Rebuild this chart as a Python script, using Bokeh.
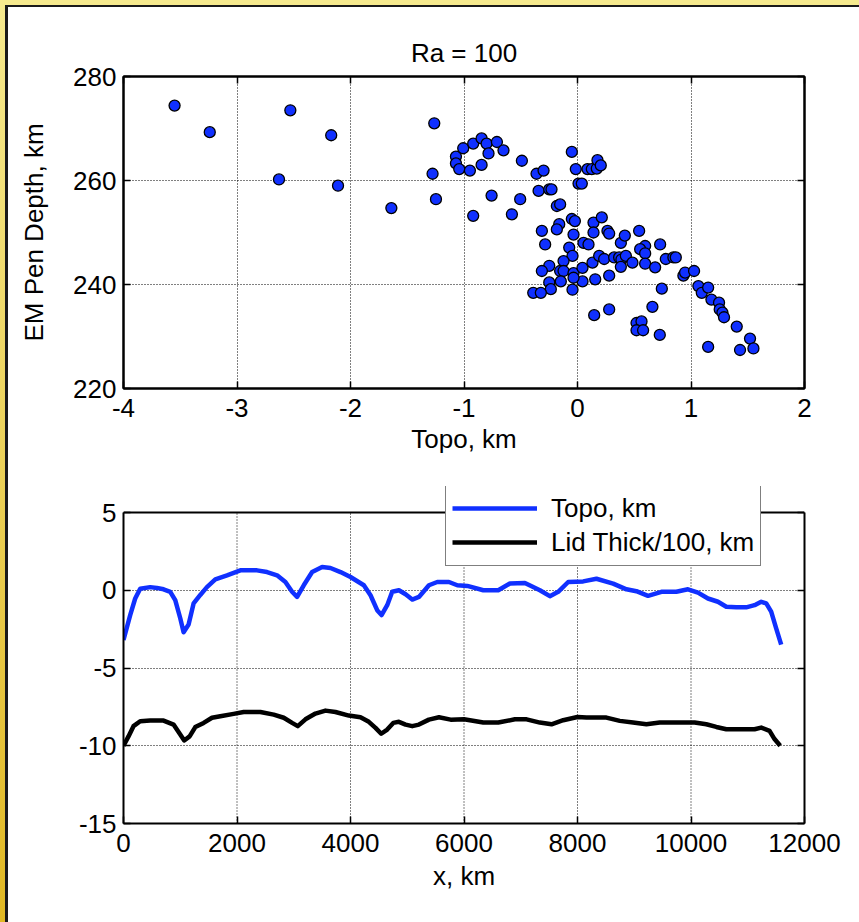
from bokeh.plotting import figure
from bokeh.layouts import column
from bokeh.models import (Range1d, FixedTicker, LinearAxis, Legend, LegendItem, Span,
                          ColumnDataSource, GlobalInlineStyleSheet)
from bokeh.embed import file_html
from bokeh.resources import INLINE

# ---------------- data ----------------
title_text = "Ra = 100"

scatter_topo = [-3.55, -3.24, -2.53, -2.17, -2.63, -2.11, -1.64,
                -1.262, -1.277, -1.247, -1.071, -1.071, -1.042, -1.007, -0.948, -0.919, -0.919,
                -0.845, -0.845, -0.801, -0.784, -0.757, -0.710, -0.652, -0.578, -0.505, -0.490,
                -0.361, -0.299, -0.343, -0.249, -0.229, -0.182, -0.153, -0.050, -0.015, 0.009,
                0.038, 0.088, 0.126, 0.170, 0.176, 0.205, -0.050, -0.023, 0.141, 0.214, 0.141,
                0.264, 0.279, -0.314, -0.161, -0.182, -0.035, -0.285, -0.073, 0.053, 0.097,
                0.382, 0.417, 0.543, 0.596, 0.552, 0.596, 0.728, -0.044, -0.123, -0.249,
                -0.314, -0.153, -0.123, -0.035, 0.044, 0.132, 0.191, 0.235, 0.323, 0.367,
                0.387, 0.426, 0.382, 0.484, 0.596, 0.684, 0.778, 0.845, 0.866, 0.279, 0.156,
                0.044, -0.035, -0.147, -0.249, -0.235, -0.044, -0.390, -0.323, 0.933, 0.948,
                1.027, 1.065, 1.095, 1.151, 1.180, 1.247, 1.253, 1.277, 1.291, 1.403, 1.520,
                1.550, 1.432, 1.151, 0.743, 0.660, 0.279, 0.147, 0.520, 0.564, 0.520, 0.578,
                0.725]
scatter_depth = [274.4, 269.3, 273.5, 268.7, 260.2, 259.0, 254.7,
                 271.0, 261.3, 256.4, 264.6, 263.3, 262.2, 266.2, 261.9, 267.1, 253.2,
                 268.1, 263.0, 267.1, 265.2, 257.1, 267.4, 265.8, 253.5, 256.4, 263.8,
                 261.3, 261.9, 258.0, 258.3, 258.3, 255.1, 255.4, 265.5, 262.2, 259.4,
                 259.4, 262.2, 262.2, 262.3, 263.9, 262.9, 252.6, 252.2, 251.9, 252.9, 250.0,
                 250.3, 249.8, 250.3, 251.6, 250.6, 249.6, 247.7, 247.1, 248.0, 247.7,
                 248.0, 249.4, 250.3, 247.4, 246.8, 246.0, 247.7, 245.5, 244.5, 243.6,
                 242.6, 242.6, 242.6, 242.2, 243.2, 244.2, 245.5, 244.9, 245.2, 245.2,
                 244.8, 245.5, 243.4, 244.2, 244.0, 243.3, 244.9, 245.2, 245.2, 241.7, 241.0,
                 240.6, 241.3, 240.6, 240.4, 239.1, 239.0, 238.4, 238.4, 241.7, 242.3,
                 242.6, 239.7, 238.4, 239.4, 237.1, 236.5, 235.2, 234.6, 233.7, 231.9, 229.6,
                 227.7, 227.4, 228.0, 239.2, 235.7, 235.2, 234.1, 232.6, 232.9, 231.2, 231.2,
                 230.3]

topo_x_km = [0, 118, 206, 294, 470, 588, 706, 824, 912, 1000, 1059, 1147, 1235, 1353, 1470,
             1618, 1824, 2059, 2353, 2529, 2706, 2853, 2971, 3059, 3176, 3324, 3500, 3647,
             3824, 4000, 4235, 4353, 4470, 4547, 4647, 4735, 4853, 4971, 5088, 5206, 5382,
             5529, 5735, 5882, 6059, 6340, 6604, 6809, 7073, 7337, 7513, 7660, 7836, 8100,
             8334, 8628, 8862, 9038, 9243, 9478, 9742, 9947, 10123, 10299, 10475, 10622,
             10798, 10973, 11120, 11237, 11326, 11413, 11501, 11589]
topo_km = [-3.2, -1.6, -0.53, 0.1, 0.2, 0.15, 0.06, -0.1, -0.64, -1.8, -2.7, -2.2, -0.85, -0.3,
           0.2, 0.7, 0.96, 1.28, 1.28, 1.17, 0.96, 0.53, -0.1, -0.43, 0.32, 1.17, 1.49, 1.43,
           1.17, 0.85, 0.32, -0.32, -1.28, -1.6, -0.96, -0.1, 0.0, -0.26, -0.6, -0.43, 0.32,
           0.53, 0.53, 0.32, 0.28, 0.0, 0.0, 0.43, 0.47, 0.0, -0.38, -0.1, 0.53, 0.57, 0.74,
           0.43, 0.06, -0.06, -0.36, -0.1, -0.1, 0.06, -0.15, -0.53, -0.74, -1.06, -1.1, -1.1,
           -0.96, -0.74, -0.85, -1.38, -2.45, -3.5]
lid_x_km = [0, 88, 176, 294, 470, 706, 882, 1000, 1070, 1165, 1265, 1412, 1559, 1706, 1941,
            2118, 2412, 2647, 2824, 2971, 3071, 3206, 3382, 3559, 3735, 3971, 4176, 4323,
            4441, 4541, 4647, 4753, 4853, 4971, 5088, 5206, 5382, 5559, 5765, 6000, 6340,
            6604, 6897, 7103, 7337, 7542, 7748, 8000, 8158, 8510, 8745, 8979, 9214, 9449,
            9800, 10064, 10270, 10446, 10622, 10856, 11120, 11237, 11384, 11472, 11572]
lid_km = [-10.0, -9.4, -8.74, -8.42, -8.38, -8.38, -8.64, -9.28, -9.66, -9.4, -8.8, -8.53,
          -8.2, -8.1, -7.95, -7.83, -7.83, -8.0, -8.2, -8.53, -8.74, -8.3, -7.93, -7.74, -7.83,
          -8.06, -8.17, -8.46, -8.85, -9.23, -8.96, -8.53, -8.46, -8.64, -8.74, -8.64, -8.32,
          -8.17, -8.32, -8.3, -8.51, -8.51, -8.3, -8.3, -8.51, -8.62, -8.36, -8.15, -8.19,
          -8.19, -8.4, -8.51, -8.62, -8.51, -8.51, -8.51, -8.62, -8.79, -8.94, -8.94, -8.94,
          -8.83, -9.04, -9.57, -10.0]

top_x_ticks = [-4, -3, -2, -1, 0, 1, 2]
top_y_ticks = [220, 240, 260, 280]
bot_x_ticks = [0, 2000, 4000, 6000, 8000, 10000, 12000]
bot_y_ticks = [-15, -10, -5, 0, 5]
bot_y_min, bot_y_max = -15, 5
legend_labels = ["Topo, km", "Lid Thick/100, km"]

FONT = "Liberation Sans"
FS = "26px"
BLUE = "#1030FF"


def style_axis(ax, ticks):
    ax.ticker = FixedTicker(ticks=ticks)
    ax.major_label_overrides = {t: str(t) for t in ticks}
    ax.major_label_text_font = FONT
    ax.major_label_text_font_size = FS
    ax.major_label_text_color = "black"
    ax.axis_label_text_font = FONT
    ax.axis_label_text_font_size = FS
    ax.axis_label_text_font_style = "normal"
    ax.axis_label_text_color = "black"
    ax.major_tick_in = 7
    ax.major_tick_out = 0
    ax.major_tick_line_width = 1.5
    ax.minor_tick_line_color = None
    ax.axis_line_width = 2
    ax.axis_line_color = "black"


def blank_axis(ticks, bounds="auto"):
    return LinearAxis(ticker=FixedTicker(ticks=ticks),
                      major_label_overrides={t: "" for t in ticks},
                      major_label_text_font_size="1px", major_label_standoff=0,
                      major_tick_in=7, major_tick_out=0, major_tick_line_width=1.5,
                      minor_tick_line_color=None, axis_line_color="black",
                      axis_line_width=2, bounds=bounds)


def style_grid(g, t):
    g.ticker = FixedTicker(ticks=t)
    g.grid_line_color = "black"
    g.grid_line_dash = "1 2"
    g.grid_line_width = 1


# ---------------- top figure ----------------
p1 = figure(width=851, height=461, x_range=Range1d(-4, 2), y_range=Range1d(220, 280),
            output_backend="svg", toolbar_location=None,
            min_border_left=115, min_border_right=55, min_border_top=69, min_border_bottom=80)
p1.outline_line_color = "black"
p1.outline_line_width = 2
xa1, ya1 = p1.xaxis[0], p1.yaxis[0]
style_axis(xa1, top_x_ticks)
style_axis(ya1, top_y_ticks)
style_grid(p1.xgrid[0], top_x_ticks)
style_grid(p1.ygrid[0], top_y_ticks)
xa1.axis_label = "Topo, km"
ya1.axis_label = "EM Pen Depth, km"
xa1.major_label_standoff = 10
ya1.major_label_standoff = 7
xa1.axis_label_standoff = 4
ya1.axis_label_standoff = 21
p1.add_layout(blank_axis(top_x_ticks), "above")
p1.add_layout(blank_axis(top_y_ticks), "right")
p1.title.text = title_text
p1.title.align = "center"
p1.title.text_font = FONT
p1.title.text_font_size = FS
p1.title.text_font_style = "normal"
p1.title.text_color = "black"
p1.title.standoff = 18

src1 = ColumnDataSource(dict(x=scatter_topo, y=scatter_depth))
p1.scatter("x", "y", source=src1, size=11, fill_color=BLUE, line_color="black", line_width=1.3)

# ---------------- bottom figure ----------------
# the frame reaches a little above y=5 so that the legend box can overlap the top edge
y_top_extra = bot_y_max + (bot_y_max - bot_y_min) * 26 / 311
p2 = figure(width=851, height=452, x_range=Range1d(0, 12000),
            y_range=Range1d(bot_y_min, y_top_extra),
            output_backend="svg", toolbar_location=None,
            min_border_left=115, min_border_right=54, min_border_top=18, min_border_bottom=97)
p2.outline_line_color = None
xa2, ya2 = p2.xaxis[0], p2.yaxis[0]
style_axis(xa2, bot_x_ticks)
style_axis(ya2, bot_y_ticks)
ya2.bounds = (bot_y_min, bot_y_max)
style_grid(p2.ygrid[0], bot_y_ticks)
p2.xgrid[0].visible = False
# vertical grid lines limited to the plotted y interval
grid_src = ColumnDataSource(dict(x=bot_x_ticks, y0=[bot_y_min] * len(bot_x_ticks),
                                 y1=[bot_y_max] * len(bot_x_ticks)))
p2.segment(x0="x", y0="y0", x1="x", y1="y1", source=grid_src, line_color="black",
           line_dash="1 2", line_width=1, level="underlay")
xa2.axis_label = "x, km"
xa2.major_label_standoff = 10
ya2.major_label_standoff = 7
xa2.axis_label_standoff = 6
p2.add_layout(blank_axis(bot_y_ticks, bounds=(bot_y_min, bot_y_max)), "right")
p2.add_layout(Span(location=bot_y_max, dimension="width", line_color="black",
                   line_width=2))

r_topo = p2.line(topo_x_km, topo_km, line_color=BLUE, line_width=4.5, line_join="round")
r_lid = p2.line(lid_x_km, lid_km, line_color="black", line_width=4.5, line_join="round")

legend = Legend(items=[LegendItem(label=legend_labels[0], renderers=[r_topo]),
                       LegendItem(label=legend_labels[1], renderers=[r_lid])],
                location=(322, 257), padding=6, margin=0, spacing=0,
                glyph_width=85, glyph_height=34, label_height=34, label_standoff=14,
                label_text_font=FONT, label_text_font_size=FS, label_text_color="black",
                border_line_color="black", border_line_width=1.5,
                background_fill_color="white", background_fill_alpha=1.0)
p2.add_layout(legend)

css = """
html {
  background:
    linear-gradient(#1a1a1a, #1a1a1a) 5px 5px / 3px 100% no-repeat fixed,
    linear-gradient(#1a1a1a, #1a1a1a) 5px 5px / 100% 2px no-repeat fixed,
    linear-gradient(#F6EA8E, #F6EA8E) 0 0 / 100% 5px no-repeat fixed,
    linear-gradient(to bottom, #F6EA8E, #E0B824) 0 0 / 5px 100% no-repeat fixed,
    #ffffff !important;
}
body { background: transparent !important; }
"""

layout = column(p1, p2, margin=(7, 0, 0, 8), spacing=0,
                stylesheets=[GlobalInlineStyleSheet(css=css)])

open("out.html", "w").write(file_html(layout, INLINE))
